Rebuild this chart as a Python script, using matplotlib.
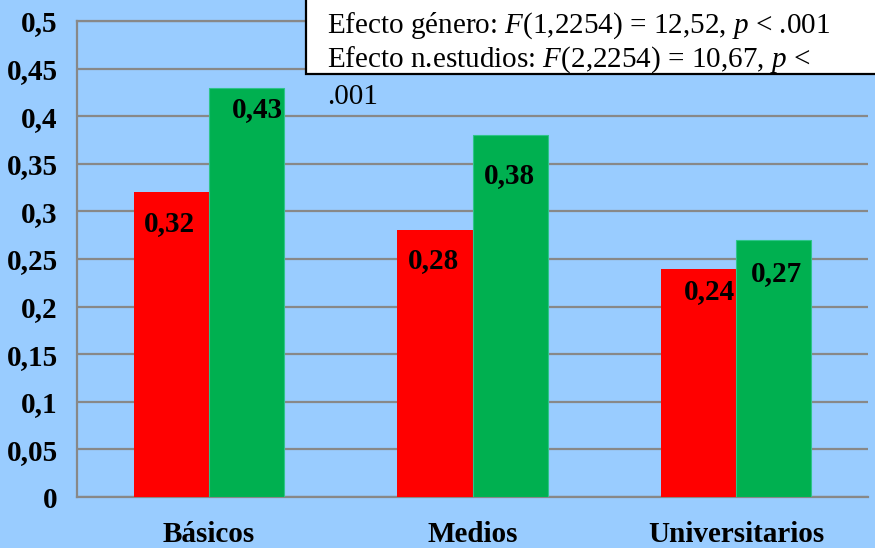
import numpy as np
import matplotlib
matplotlib.use("Agg")
import matplotlib.pyplot as plt
from matplotlib.patches import Rectangle

# --- Data ---
CATEGORIES = ["Básicos", "Medios", "Universitarios"]
RED_VALUES = [0.32, 0.28, 0.24]
GREEN_VALUES = [0.43, 0.38, 0.27]
Y_TICKS = [0, 0.05, 0.1, 0.15, 0.2, 0.25, 0.3, 0.35, 0.4, 0.45, 0.5]
Y_TICK_LABELS = ["0", "0,05", "0,1", "0,15", "0,2", "0,25", "0,3", "0,35", "0,4", "0,45", "0,5"]

# label nudges in pixels (dx, dy) relative to bar top centre
RED_LABEL_OFFSETS = [(-2, -31), (-1, -30), (11, -23)]
GREEN_LABEL_OFFSETS = [(11, -22), (-1, -40), (3, -34)]

BG = "#99CCFF"
RED = "#FF0000"
GREEN = "#00B050"
GRID = "#888888"
FS = 21

plt.rcParams["font.family"] = ["Liberation Serif", "DejaVu Serif"]
plt.rcParams["mathtext.fontset"] = "custom"
plt.rcParams["mathtext.rm"] = "Liberation Serif"
plt.rcParams["mathtext.it"] = "Liberation Serif:italic"

fig = plt.figure(figsize=(8.75, 5.48), dpi=100, facecolor=BG)
ax = fig.add_axes([77.25 / 875, 1 - 497 / 548, 790.5 / 875, 476 / 548])
ax.set_facecolor(BG)

x = np.arange(len(CATEGORIES))
w = 0.285
red_bars = ax.bar(x - w / 2, RED_VALUES, w, color=RED, zorder=3)
green_bars = ax.bar(x + w / 2, GREEN_VALUES, w, color=GREEN, edgecolor="#2EC48A",
                    linewidth=0.8, zorder=3)

for bars, vals, offs in [(red_bars, RED_VALUES, RED_LABEL_OFFSETS),
                         (green_bars, GREEN_VALUES, GREEN_LABEL_OFFSETS)]:
    for b, v, (dx, dy) in zip(bars, vals, offs):
        ax.annotate(f"{v:.2f}".replace(".", ","),
                    (b.get_x() + b.get_width() / 2, v),
                    xytext=(dx * 0.72, dy * 0.72), textcoords="offset points",
                    ha="center", va="center", fontsize=FS, fontweight="bold",
                    zorder=4)

ax.set_xlim(-0.5, len(CATEGORIES) - 0.5)
ax.set_ylim(0, 0.5)
ax.set_yticks(Y_TICKS)
ax.set_yticklabels(Y_TICK_LABELS, fontsize=FS, fontweight="bold")
ax.set_xticks(x)
ax.set_xticklabels(CATEGORIES, fontsize=FS, fontweight="bold")
ax.tick_params(axis="y", length=0, pad=14)
ax.tick_params(axis="x", length=0, pad=17)

ax.grid(axis="y", color=GRID, linewidth=1.6, zorder=0)
ax.set_axisbelow(True)
ax.spines["right"].set_visible(False)
for side in ["left", "bottom", "top"]:
    ax.spines[side].set_color(GRID)
    ax.spines[side].set_linewidth(1.6)

# statistics text box (second line wraps out of the box, as in the original)
fig.patches.append(Rectangle((306 / 875, 1 - 74 / 548), 0.7, 0.2,
                             transform=fig.transFigure, facecolor="white",
                             edgecolor="black", linewidth=1.6, zorder=5))
fig.text(327 / 875, 1 - 26 / 548, r"Efecto género: $F$(1,2254) = 12,52, $p$ < .001",
         fontsize=FS, va="center", ha="left", zorder=6)
fig.text(327 / 875, 1 - 60 / 548, r"Efecto n.estudios: $F$(2,2254) = 10,67, $p$ <",
         fontsize=FS, va="center", ha="left", zorder=6)
fig.text(327 / 875, 1 - 97 / 548, ".001", fontsize=FS, va="center", ha="left", zorder=6)

fig.savefig("out.png", dpi=100, facecolor=BG)
